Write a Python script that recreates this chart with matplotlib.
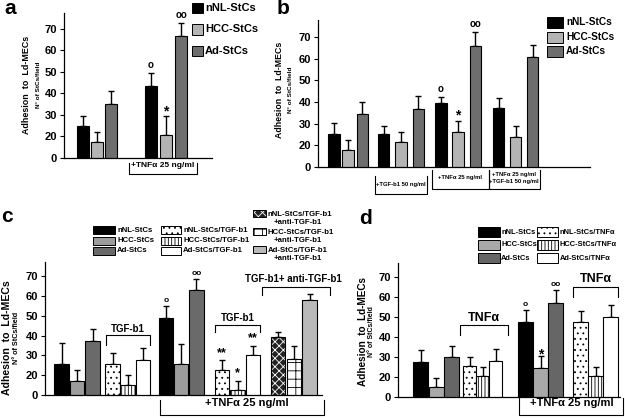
import matplotlib
matplotlib.use('Agg')
import matplotlib.pyplot as plt
from matplotlib.patches import Rectangle
from matplotlib.lines import Line2D

# values. The y axes of the original skip the "10" label,
# so the lowest tick (labelled "0") sits at 10 on the value scale.
y_ticks = [10, 20, 30, 40, 50, 60, 70]
y_ticklabels = ['0', '20', '30', '40', '50', '60', '70']

# panel a
a_ctrl = [25, 17.3, 35]
a_ctrl_err = [4.7, 5, 6]
a_tnf = [43.6, 20.7, 66.5]
a_tnf_err = [6, 8.8, 6.3]

# panel b
b_ctrl = [25.1, 17.7, 34.3]
b_ctrl_err = [5.1, 4.6, 5.8]
b_tgf = [25.4, 21.5, 36.8]
b_tgf_err = [3.5, 4.5, 6]
b_tnf = [39.7, 26.3, 66]
b_tnf_err = [2.7, 5.1, 6.2]
b_both = [37.1, 24, 60.9]
b_both_err = [4.9, 5.1, 5.4]

# panel c
c_ctrl = [25.8, 17.3, 37.3]
c_ctrl_err = [10.5, 5.1, 5.9]
c_tgf = [25.8, 15.3, 27.5]
c_tgf_err = [5.4, 5, 6.2]
c_tnf = [49, 25.8, 63]
c_tnf_err = [6, 10.2, 5.6]
c_tnf_tgf = [22.4, 12.5, 30]
c_tnf_tgf_err = [5.1, 4.8, 5]
c_tnf_anti = [39.3, 28.3, 58]
c_tnf_anti_err = [2.6, 6.3, 3]

# panel d
d_ctrl = [27.5, 15, 30]
d_ctrl_err = [6, 4.5, 5.5]
d_tnfa = [25.5, 20.5, 28]
d_tnfa_err = [4.5, 4.5, 6]
d_tnf = [47.5, 24.7, 57]
d_tnf_err = [5.8, 5.6, 6.7]
d_tnf_tnfa = [47.5, 20.7, 50]
d_tnf_tnfa_err = [5.3, 4.3, 6]

names_base = ['nNL-StCs', 'HCC-StCs', 'Ad-StCs']
names_tgf = ['nNL-StCs/TGF-b1', 'HCC-StCs/TGF-b1', 'Ad-StCs/TGF-b1']
names_anti = ['nNL-StCs/TGF-b1', 'HCC-StCs/TGF-b1', 'Ad-StCs/TGF-b1']
names_tnfa = ['nNL-StCs/TNF\u03b1', 'HCC-StCs/TNF\u03b1', 'Ad-StCs/TNF\u03b1']

W, H = 625, 418
plt.rcParams['font.family'] = ['Liberation Sans', 'DejaVu Sans']
plt.rcParams['hatch.linewidth'] = 0.6

fig = plt.figure(figsize=(W / 100, H / 100), dpi=100)
fig.patch.set_facecolor('white')


def px_axes(x0, y0, x1, y1):
    ax = fig.add_axes([x0 / W, 1 - y1 / H, (x1 - x0) / W, (y1 - y0) / H])
    ax.set_xlim(x0, x1)
    ax.patch.set_alpha(0)
    return ax


def ftext(x, y, s, **kw):
    kw.setdefault('fontweight', 'bold')
    kw.setdefault('ha', 'center')
    kw.setdefault('va', 'center')
    return fig.text(x / W, 1 - y / H, s, **kw)


def fline(xs, ys, lw=0.8):
    fig.add_artist(Line2D([x / W for x in xs], [1 - y / H for y in ys],
                          transform=fig.transFigure, color='black', lw=lw))


def bracket_down(x0, x1, ytop, ybot):
    # open-topped bracket below an axis
    fline([x0, x0, x1, x1], [ytop, ybot, ybot, ytop])


def bracket_up(x0, x1, ytop, ybot):
    fline([x0, x0, x1, x1], [ybot, ytop, ytop, ybot])


def fpatch(x, y, w, h, st):
    box = ((x / W, 1 - (y + h) / H), w / W, h / H)
    if st.get('hc'):
        # light hatch on a dark fill, then the black outline on top
        fig.add_artist(Rectangle(*box, transform=fig.transFigure, facecolor=st['fc'],
                                 hatch=st['hatch'], edgecolor=st['hc'], lw=0))
        fig.add_artist(Rectangle(*box, transform=fig.transFigure, fill=False,
                                 edgecolor='black', lw=0.7))
    else:
        fig.add_artist(Rectangle(*box, transform=fig.transFigure, facecolor=st['fc'],
                                 hatch=st.get('hatch'), edgecolor='black', lw=0.7))


def frame(ax, top):
    ax.set_ylim(10, top)
    ax.set_yticks(y_ticks, y_ticklabels)
    for s in ['top', 'right']:
        ax.spines[s].set_visible(False)
    for s in ['left', 'bottom']:
        ax.spines[s].set_linewidth(0.9)
    ax.tick_params(axis='x', bottom=False, labelbottom=False)
    ax.tick_params(axis='y', length=3, width=0.8, labelsize=8, pad=2)
    for lab in ax.get_yticklabels():
        lab.set_fontweight('bold')


def group(ax, x0, step, width, vals, errs, styles):
    xs = [x0 + i * step for i in range(len(vals))]
    for x, v, st in zip(xs, vals, styles):
        if st.get('hc'):
            ax.bar(x, v, width=width, color=st['fc'], hatch=st['hatch'],
                   edgecolor=st['hc'], linewidth=0, zorder=2)
            ax.bar(x, v, width=width, fill=False, edgecolor='black',
                   linewidth=0.8, zorder=2)
        else:
            ax.bar(x, v, width=width, color=st['fc'], hatch=st.get('hatch'),
                   edgecolor='black', linewidth=0.8, zorder=2)
    ax.errorbar(xs, vals, yerr=[[0] * len(vals), errs], fmt='none', ecolor='black',
                elinewidth=1, capsize=2.5, capthick=1, zorder=1)
    return xs


def mark(ax, x, y, s, size=7):
    ax.text(x, y, s, ha='center', va='bottom', fontsize=size, fontweight='bold',
            clip_on=False)


def ylab(x1, x2, y, size1, size2):
    ftext(x1, y, 'Adhesion  to  Ld-MECs', rotation=90, fontsize=size1)
    ftext(x2, y, 'N\u00b0 of StCs/field', rotation=90, fontsize=size2)


black = {'fc': 'black'}
s_dots = {'fc': 'white', 'hatch': '...'}
s_vert = {'fc': 'white', 'hatch': '|||||'}
s_white = {'fc': 'white'}
s_check = {'fc': '#222222', 'hatch': 'xxxx', 'hc': 'white'}
s_brick = {'fc': 'white', 'hatch': '++'}
s_lgray = {'fc': '#b9b9b9'}

# ---------------- panel a ----------------
sa = [black, {'fc': '#b4b4b4'}, {'fc': '#6e6e6e'}]
ax = px_axes(64, 13, 212, 158)
frame(ax, 77.4)
group(ax, 83, 14, 12, a_ctrl, a_ctrl_err, sa)
xs = group(ax, 151, 15, 12, a_tnf, a_tnf_err, sa)
mark(ax, xs[0], a_tnf[0] + a_tnf_err[0] + 1.5, 'o', 7)
mark(ax, xs[1], a_tnf[1] + a_tnf_err[1] - 1, '*', 10)
mark(ax, xs[2], a_tnf[2] + a_tnf_err[2] + 1.5, 'oo', 7)
ftext(10, 8, 'a', fontsize=15)
ylab(27, 39, 85, 6.4, 4.6)
for i, (nm, st) in enumerate(zip(names_base, sa)):
    fpatch(192, 3 + 21.5 * i, 11, 10, st)
    ftext(205, 8 + 21.5 * i, nm, ha='left', fontsize=8)
bracket_down(129, 197, 163, 174)
ftext(163, 166, '+TNF\u03b1 25 ng/ml', fontsize=6)

# ---------------- panel b ----------------
ax = px_axes(318, 20, 590, 167)
frame(ax, 77.8)
group(ax, 334, 14.2, 11.5, b_ctrl, b_ctrl_err, sa)
group(ax, 383.5, 17.4, 11.5, b_tgf, b_tgf_err, sa)
xs = group(ax, 441, 17.2, 11.5, b_tnf, b_tnf_err, sa)
mark(ax, xs[0], b_tnf[0] + b_tnf_err[0] + 1.5, 'o', 7)
mark(ax, xs[1], b_tnf[1] + b_tnf_err[1] - 1, '*', 10)
mark(ax, xs[2], b_tnf[2] + b_tnf_err[2] + 1.5, 'oo', 7)
group(ax, 498.5, 17, 11.5, b_both, b_both_err, sa)
ftext(283, 9, 'b', fontsize=15)
ylab(280, 290, 90, 6.3, 4.6)
for i, (nm, st) in enumerate(zip(names_base, sa)):
    fpatch(547, 17 + 14.5 * i, 16, 11, st)
    ftext(566, 22 + 14.5 * i, nm, ha='left', fontsize=7.3)
bracket_down(375, 427, 176, 194)
ftext(401, 184, '+TGF-b1 50 ng/ml', fontsize=4.2)
bracket_down(432, 489, 170, 189)
ftext(460, 178, '+TNF\u03b1 25 ng/ml', fontsize=4.2)
bracket_down(489, 540, 170, 189)
ftext(514, 174, '+TNF\u03b1 25 ng/ml', fontsize=4.2)
ftext(514, 182, '+TGF-b1 50 ng/ml', fontsize=4.2)

# ---------------- panel c ----------------
sc = [black, {'fc': '#9c9c9c'}, {'fc': '#6a6a6a'}]
st_tgf = [s_dots, s_vert, s_white]
st_anti = [s_check, s_brick, s_lgray]
ax = px_axes(45, 262, 322, 395)
frame(ax, 77.2)
group(ax, 61.5, 15.5, 14.5, c_ctrl, c_ctrl_err, sc)
group(ax, 112.5, 15.2, 14.5, c_tgf, c_tgf_err, st_tgf)
xs = group(ax, 166, 15.2, 14.5, c_tnf, c_tnf_err, sc)
mark(ax, xs[0], c_tnf[0] + c_tnf_err[0] + 1, 'o', 6)
mark(ax, xs[2], c_tnf[2] + c_tnf_err[2] + 1, 'oo', 6)
xs = group(ax, 222, 15.5, 14.5, c_tnf_tgf, c_tnf_tgf_err, st_tgf)
mark(ax, xs[0], c_tnf_tgf[0] + c_tnf_tgf_err[0] + 0.5, '**', 9)
mark(ax, xs[1], c_tnf_tgf[1] + c_tnf_tgf_err[1] + 0.5, '*', 9)
mark(ax, xs[2], c_tnf_tgf[2] + c_tnf_tgf_err[2] + 0.5, '**', 9)
group(ax, 278, 15.8, 14.5, c_tnf_anti, c_tnf_anti_err, st_anti)
ftext(7, 217, 'c', fontsize=15)
ylab(7, 17, 338, 7.6, 5.2)
for i in range(3):
    fpatch(93, 226 + 10.5 * i, 22, 8, sc[i])
    ftext(117, 230 + 10.5 * i, names_base[i], ha='left', fontsize=5.6)
    fpatch(161, 226 + 10.5 * i, 20, 8, st_tgf[i])
    ftext(183, 230 + 10.5 * i, names_tgf[i], ha='left', fontsize=5.6)
    fpatch(253, 210 + 18 * i, 13, 7, st_anti[i])
    ftext(268, 214 + 18 * i, names_anti[i], ha='left', fontsize=5.6)
    ftext(274, 222.5 + 18 * i, '+anti-TGF-b1', ha='left', fontsize=5.6)
bracket_up(106, 150, 335, 345)
ftext(128, 329, 'TGF-b1', fontsize=7)
bracket_up(215, 260, 325, 332)
ftext(238, 318, 'TGF-b1', fontsize=7)
bracket_up(262, 330, 287, 295)
ftext(293, 279, 'TGF-b1+ anti-TGF-b1', fontsize=7)
bracket_down(160, 324, 400, 415)
ftext(247, 403, '+TNF\u03b1 25 ng/ml', fontsize=8)

# ---------------- panel d ----------------
sd = [black, {'fc': '#a9a9a9'}, {'fc': '#666666'}]
st_tnfa = [s_dots, s_vert, s_white]
ax = px_axes(398, 263, 620, 397)
frame(ax, 77)
group(ax, 420.5, 15.5, 15, d_ctrl, d_ctrl_err, sd)
group(ax, 469.5, 13, 13, d_tnfa, d_tnfa_err, st_tnfa)
xs = group(ax, 525.5, 15.2, 15, d_tnf, d_tnf_err, sd)
mark(ax, xs[0], d_tnf[0] + d_tnf_err[0] + 1, 'o', 6)
mark(ax, xs[1], d_tnf[1] + d_tnf_err[1] - 2.5, '*', 10)
mark(ax, xs[2], d_tnf[2] + d_tnf_err[2] + 1, 'oo', 6)
group(ax, 580.5, 15, 15, d_tnf_tnfa, d_tnf_tnfa_err, st_tnfa)
ftext(366, 219, 'd', fontsize=15)
ylab(363, 372, 332, 7.2, 5)
for i in range(3):
    fpatch(478, 227 + 13 * i, 22, 10, sd[i])
    ftext(501, 232 + 13 * i, names_base[i], ha='left', fontsize=5.4)
    fpatch(537, 227 + 13 * i, 21, 10, st_tnfa[i])
    ftext(560, 232 + 13 * i, names_tnfa[i], ha='left', fontsize=5.4)
bracket_up(460, 508, 325, 335)
ftext(484, 318, 'TNF\u03b1', fontsize=9)
bracket_up(573, 618, 287, 297)
ftext(596, 279, 'TNF\u03b1', fontsize=9)
bracket_down(519, 623, 398, 415)
ftext(572, 403, '+TNF\u03b1 25 ng/ml', fontsize=8)

fig.savefig('out.png', dpi=100)
